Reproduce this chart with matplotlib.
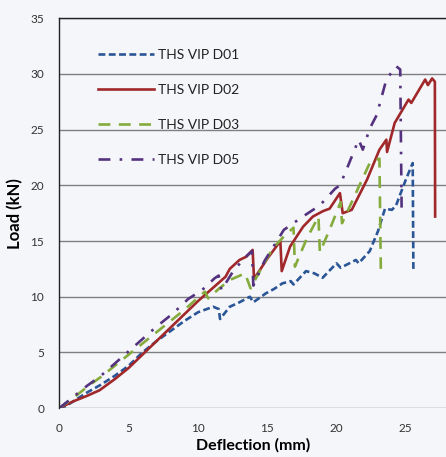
import matplotlib
matplotlib.use("Agg")
import matplotlib.pyplot as plt

# ---------------- data ----------------
labels = ["THS VIP D01", "THS VIP D02", "THS VIP D03", "THS VIP D05"]

d01_x = [0, 0.5, 1, 2, 3, 4, 5, 6, 7, 8, 9, 10, 11.1, 11.5, 11.6, 12.3, 13, 13.75, 14.0,
         14.9, 15.5, 16.1, 16.7, 16.9, 17.8, 18.4, 19.0, 20.0, 20.3, 21.4, 21.6, 22.4, 23.0,
         23.5, 24.0, 24.3, 25.0, 25.5, 25.55]
d01_y = [0, 0.2, 0.6, 1.4, 2.1, 2.9, 3.8, 5.0, 6.0, 6.9, 7.8, 8.6, 9.1, 8.9, 8.0, 9.1, 9.5,
         10.0, 9.5, 10.3, 10.7, 11.2, 11.4, 11.1, 12.3, 12.1, 11.7, 13.0, 12.6, 13.3, 13.0,
         14.1, 15.9, 17.9, 17.8, 18.2, 20.5, 22.0, 12.5]

d02_x = [0, 0.5, 1, 2, 2.9, 4, 5, 6, 7, 8, 9, 10, 11, 12, 12.3, 13.0, 13.5, 13.95, 14.05,
         15.0, 15.95, 16.05, 16.65, 17.6, 18.3, 19.05, 19.5, 20.25, 20.45, 21.1, 22.2, 23.1,
         23.6, 23.65, 24.2, 25.2, 25.4, 26.4, 26.6, 26.9, 27.1, 27.12]
d02_y = [0, 0.3, 0.6, 1.1, 1.6, 2.6, 3.6, 4.8, 6.0, 7.2, 8.4, 9.6, 10.7, 11.8, 12.5, 13.3,
         13.6, 14.2, 11.6, 13.4, 15.0, 12.3, 14.5, 16.3, 17.2, 17.7, 17.9, 19.3, 17.5, 17.8,
         20.5, 23.2, 24.1, 23.0, 25.6, 27.7, 27.4, 29.5, 29.0, 29.6, 29.3, 17.2]

d03_x = [0, 1, 2, 3, 4, 5, 6, 7, 8, 9, 10, 10.5, 10.75, 11.5, 12.3, 13.4, 13.8, 14.6, 15.4,
         16.2, 16.9, 17.0, 17.85, 18.7, 18.8, 19.5, 20.3, 20.4, 21.4, 22.4, 23.1, 23.2]
d03_y = [0, 0.9, 1.9, 2.8, 3.8, 4.8, 5.8, 6.8, 7.8, 8.8, 9.9, 10.45, 9.85, 10.7, 11.5, 12.1,
         10.75, 12.6, 14.35, 15.4, 16.2, 12.7, 15.2, 17.2, 14.0, 16.0, 18.5, 16.6, 19.3, 22.0,
         22.4, 12.5]

d05_x = [0, 1, 2, 3, 4, 5, 6, 7, 8.2, 9.3, 10.3, 11.2, 11.5, 11.7, 12.5, 13.3, 13.9, 14.0,
         14.8, 15.7, 16.2, 17.0, 17.7, 18.8, 19.9, 20.25, 20.85, 21.6, 21.9, 22.4, 22.9, 23.6,
         24.3, 24.6, 24.7]
d05_y = [0, 1.0, 2.0, 2.9, 4.0, 5.1, 6.2, 7.3, 8.5, 9.8, 10.6, 11.65, 11.9, 10.6, 12.2, 13.4,
         14.1, 11.0, 13.2, 15.0, 16.0, 16.7, 17.3, 18.2, 19.7, 20.0, 21.8, 24.1, 23.2, 25.1,
         26.3, 29.5, 30.7, 30.4, 18.0]

x_ticks = [0, 5, 10, 15, 20, 25]
y_ticks = [0, 5, 10, 15, 20, 25, 30, 35]

# ---------------- style ----------------
plt.rcParams['font.family'] = ['Lato', 'DejaVu Sans']
bg = '#f5f6f9'
fig = plt.figure(figsize=(4.46, 4.57), dpi=100, facecolor=bg)
ax = fig.add_axes([0.133, 0.107, 0.870, 0.853], facecolor=bg)

lw = 1.9
ax.plot(d01_x, d01_y, color='#2a5597', lw=lw, dashes=(2.6, 1.3), label=labels[0])
ax.plot(d02_x, d02_y, color='#a0282a', lw=lw, label=labels[1])
ax.plot(d03_x, d03_y, color='#84ab3c', lw=lw, dashes=(4.5, 3.2), label=labels[2])
ax.plot(d05_x, d05_y, color='#55327f', lw=lw, dashes=(4.5, 3.5, 1.0, 3.5), label=labels[3])

ax.set_xlim(0, 28)
ax.set_ylim(0, 35)
ax.set_xticks(x_ticks)
ax.set_yticks(y_ticks)
ax.yaxis.grid(True, color='#7f7f7f', lw=1.0)
ax.set_axisbelow(True)
for s in ['right', 'bottom']:
    ax.spines[s].set_visible(False)
ax.spines['left'].set_color('#222222')
ax.spines['top'].set_color('#222222')
ax.spines['left'].set_linewidth(1.0)
ax.spines['top'].set_linewidth(1.0)
ax.tick_params(length=0, labelsize=8.5, colors='#333333', pad=11)

ax.set_xlabel('Deflection (mm)', fontsize=11.5, fontweight='bold', labelpad=3)
ax.set_ylabel('Load (kN)', fontsize=12, fontweight='bold', labelpad=5)

leg = ax.legend(loc='upper left', bbox_to_anchor=(0.10, 0.922), frameon=False,
                fontsize=10, handlelength=4.0, handletextpad=0.3, labelspacing=1.66,
                borderpad=0, borderaxespad=0)
for t in leg.get_texts():
    t.set_color('#222222')

fig.savefig('out.png', dpi=100, facecolor=bg)
